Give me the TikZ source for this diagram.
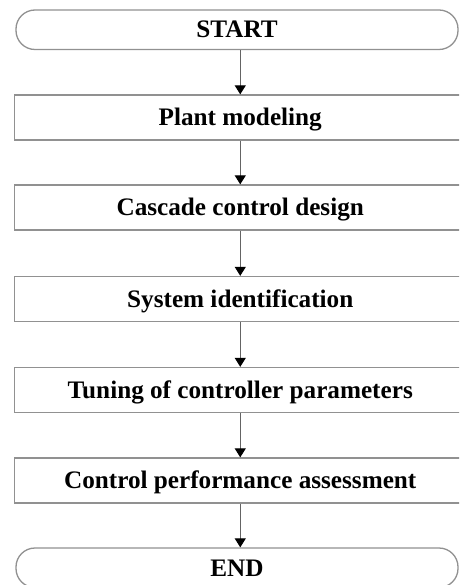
\documentclass[tikz,border=0pt]{standalone}
\usepackage{fontspec}
\setmainfont{Liberation Serif}
\usetikzlibrary{arrows.meta}
\definecolor{boxline}{RGB}{145,145,145}
\definecolor{arrline}{RGB}{100,100,100}
\tikzset{
  boxtext/.style={font=\fontsize{25.2}{28}\selectfont\bfseries, text height=16.5pt, text depth=0pt, inner sep=0pt},
  stepbox/.style={boxtext, draw=boxline, line width=1.3pt, rectangle, minimum width=451.5pt, minimum height=45pt},
  termbox/.style={boxtext, draw=boxline, line width=1.3pt, rectangle, rounded corners=19pt, minimum width=442pt, minimum height=39.5pt},
  flow/.style={draw=arrline, line width=1pt, -{Triangle[width=11pt,length=9pt,fill=black,color=black]}}
}
\begin{document}
\begin{tikzpicture}[x=1pt,y=-1pt]
\useasboundingbox (0,0) rectangle (459,585);
\clip (0,0) rectangle (459,585);
\node[termbox] (start) at (237,29.75) {START};
\node[stepbox] (s1) at (240.25,117.5) {Plant modeling};
\node[stepbox] (s2) at (240.25,207.5) {Cascade control design};
\node[stepbox] (s3) at (240.25,299) {System identification};
\node[stepbox] (s4) at (240.25,390) {Tuning of controller parameters};
\node[stepbox] (s5) at (240.25,480.5) {Control performance assessment};
\node[termbox] (end) at (237,567.75) {END};
\draw[flow] (start.south -| s1.north) -- (s1.north);
\draw[flow] (s1) -- (s2);
\draw[flow] (s2) -- (s3);
\draw[flow] (s3) -- (s4);
\draw[flow] (s4) -- (s5);
\draw[flow] (s5.south) -- (s5.south |- end.north);
\end{tikzpicture}
\end{document}
